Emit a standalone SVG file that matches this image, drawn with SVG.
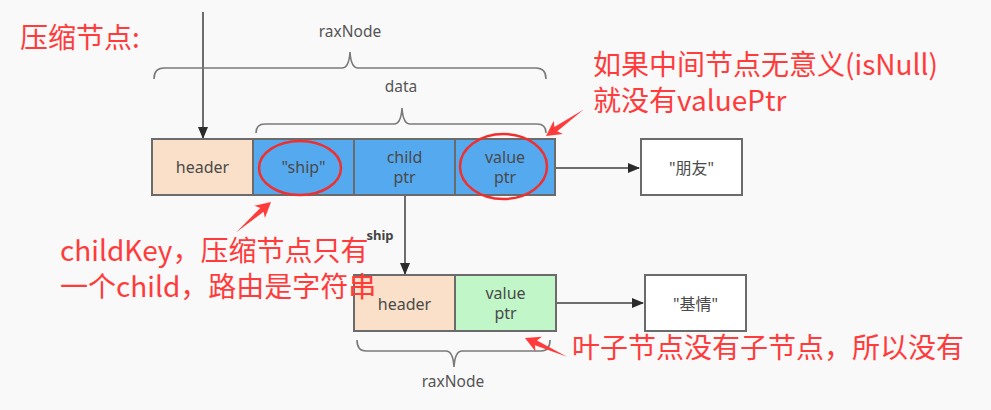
<svg xmlns="http://www.w3.org/2000/svg" width="991" height="410" viewBox="0 0 991 410">
<style>
.bg{fill:#f9f9f9}
.cell{stroke:#6b6b6b;stroke-width:2}
.peach{fill:#fae0c8}
.blue{fill:#55a9ef}
.green{fill:#c1f6c9}
.white{fill:#ffffff}
.lbl{font-family:"Noto Sans","Noto Sans CJK SC",sans-serif;font-size:16px;fill:#4a4a4a;text-anchor:middle}
.gray{font-family:"Noto Sans",sans-serif;font-size:15.5px;fill:#555;text-anchor:middle}
.brace{fill:none;stroke:#7a7a7a;stroke-width:1.6}
.conn{stroke:#6e6e6e;stroke-width:2;fill:none}
.red{font-family:"Noto Sans CJK SC","Noto Sans",sans-serif;font-size:28px;fill:#ff3b3b}
.ring{fill:none;stroke:#f0302f;stroke-width:2.5}
.rarrow{fill:#ff3b3b}
</style>
<defs>
<marker id="ah" viewBox="0 0 12 10" refX="11" refY="5" markerWidth="12" markerHeight="10" markerUnits="userSpaceOnUse" orient="auto">
<path d="M0,0 L12,5 L0,10 Z" fill="#2b2b2b"/>
</marker>
<path id="redArrow" d="M0,0 L-15,-8 L-12,-2.5 L-46,0 L-12,2.5 L-15,8 Z"/>
</defs>
<rect class="bg" x="0" y="0" width="991" height="410"/>

<g id="connectors">
<line class="conn" x1="203" y1="12" x2="203" y2="138" marker-end="url(#ah)"/>
<line class="conn" x1="556" y1="168" x2="639" y2="168" marker-end="url(#ah)"/>
<line class="conn" x1="405" y1="195" x2="405" y2="274" marker-end="url(#ah)"/>
<text x="380" y="240" font-family="Noto Sans,sans-serif" font-size="13" font-weight="bold" fill="#444" text-anchor="middle">ship</text>
<line class="conn" x1="556" y1="303" x2="643" y2="303" marker-end="url(#ah)"/>
</g>

<g id="braces">
<path class="brace" d="M154,79 Q154,68 164,68 L342,68 Q349,68 350,52 Q351,68 358,68 L536,68 Q546,68 546,79"/>
<text class="gray" x="350" y="37">raxNode</text>
<path class="brace" d="M256,133 Q256,124 265,124 L394,124 Q401,124 402,108 Q403,124 410,124 L537,124 Q546,124 546,133"/>
<text class="gray" x="401" y="92">data</text>
<path class="brace" d="M357,340 Q357,351 366,351 L446,351 Q453,351 454,367 Q455,351 462,351 L541,351 Q550,351 550,340"/>
<text class="gray" x="453" y="387">raxNode</text>
</g>

<g id="node-compressed">
<rect class="cell peach" x="152" y="139" width="101" height="56"/>
<text class="lbl" x="202.5" y="173">header</text>
<rect class="cell blue" x="253" y="139" width="101" height="56"/>
<text class="lbl" x="303.5" y="173">"ship"</text>
<rect class="cell blue" x="354" y="139" width="101" height="56"/>
<text class="lbl" x="404.5" y="163">child</text>
<text class="lbl" x="404.5" y="183">ptr</text>
<rect class="cell blue" x="455" y="139" width="100" height="56"/>
<text class="lbl" x="505" y="163">value</text>
<text class="lbl" x="505" y="183">ptr</text>
</g>

<g id="node-pengyou">
<rect class="cell white" x="641" y="139" width="101" height="56"/>
<text class="lbl" x="691.5" y="174">"朋友"</text>
</g>

<g id="node-leaf">
<rect class="cell peach" x="354" y="275" width="101" height="56"/>
<text class="lbl" x="404.5" y="310">header</text>
<rect class="cell green" x="455" y="275" width="101" height="56"/>
<text class="lbl" x="505.5" y="299">value</text>
<text class="lbl" x="505.5" y="319">ptr</text>
</g>

<g id="node-jiqing">
<rect class="cell white" x="645" y="275" width="101" height="56"/>
<text class="lbl" x="695.5" y="310">"基情"</text>
</g>

<g id="annotations">
<ellipse class="ring" cx="300" cy="168" rx="41" ry="27"/>
<ellipse class="ring" cx="503.5" cy="166.5" rx="43.5" ry="32.5"/>
<text class="red" x="20" y="48">压缩节点:</text>
<text class="red" x="593" y="75">如果中间节点无意义(isNull)</text>
<text class="red" x="593" y="111">就没有valuePtr</text>
<text class="red" x="60" y="261">childKey，压缩节点只有</text>
<text class="red" x="60" y="297">一个child，路由是字符串</text>
<text class="red" x="572" y="358">叶子节点没有子节点，所以没有</text>
<use href="#redArrow" class="rarrow" transform="translate(546,136) rotate(145)"/>
<use href="#redArrow" class="rarrow" transform="translate(271,202) rotate(-41)"/>
<use href="#redArrow" class="rarrow" transform="translate(525,338) rotate(204)"/>
</g>
</svg>
